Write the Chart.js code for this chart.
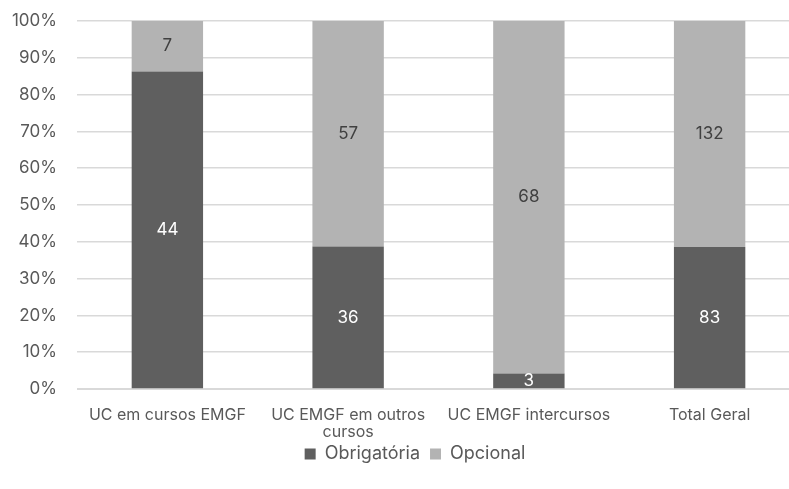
<!DOCTYPE html>
<html>
<head>
<meta charset="utf-8">
<script src="https://cdn.jsdelivr.net/npm/chart.js@4"></script>
<style>
  html, body { margin: 0; padding: 0; background: #fff; overflow: hidden; }
  #wrap { width: 800px; height: 489px; }
</style>
</head>
<body>
<div id="wrap"><canvas id="chart"></canvas></div>
<script>
// Categories and counts
const categories = [
  "UC em cursos EMGF",
  ["UC EMGF em outros", "cursos"],
  "UC EMGF intercursos",
  "Total Geral"
];
const obrigatoria = [44, 36, 3, 83];
const opcional = [7, 57, 68, 132];
const yTicks = [0, 10, 20, 30, 40, 50, 60, 70, 80, 90, 100];

// 100% stacked: share of each category
const totals = obrigatoria.map((v, i) => v + opcional[i]);
const pctObrig = obrigatoria.map((v, i) => v / totals[i] * 100);
const pctOpc = opcional.map((v, i) => v / totals[i] * 100);

const FONT = "Inter, 'Open Sans', sans-serif";

// Draw the raw counts in the middle of each segment
const countLabels = {
  id: 'countLabels',
  afterDatasetsDraw(chart) {
    const ctx = chart.ctx;
    ctx.save();
    ctx.font = "17px " + FONT;
    ctx.textAlign = 'center';
    ctx.textBaseline = 'middle';
    chart.data.datasets.forEach((ds, di) => {
      const meta = chart.getDatasetMeta(di);
      meta.data.forEach((bar, i) => {
        const y = (bar.y + bar.base) / 2;
        ctx.fillStyle = ds.labelColor;
        ctx.fillText(ds.counts[i], bar.x, y);
      });
    });
    ctx.restore();
  }
};

// don't clip tick labels to the scale box
const noClip = () => undefined;

new Chart(document.getElementById('chart'), {
  type: 'bar',
  data: {
    labels: categories,
    datasets: [
      {
        label: 'Obrigatória',
        data: pctObrig,
        counts: obrigatoria,
        labelColor: '#ffffff',
        backgroundColor: '#5f5f5f',
        categoryPercentage: 1,
        barPercentage: 0.395
      },
      {
        label: 'Opcional',
        data: pctOpc,
        counts: opcional,
        labelColor: '#404040',
        backgroundColor: '#b3b3b3',
        categoryPercentage: 1,
        barPercentage: 0.395
      }
    ]
  },
  options: {
    responsive: true,
    maintainAspectRatio: false,
    animation: false,
    layout: { padding: { top: 0, left: 30, right: 0, bottom: 16 } },
    plugins: {
      tooltip: { enabled: false },
      legend: {
        position: 'bottom',
        labels: {
          boxWidth: 11,
          boxHeight: 11,
          padding: 10,
          color: '#595959',
          font: { family: FONT, size: 18 }
        }
      }
    },
    scales: {
      x: {
        stacked: true,
        grid: { display: false },
        border: { color: '#d9d9d9' },
        afterFit(scale) {
          scale.height = 46;
          scale._computeLabelArea = noClip;
        },
        ticks: {
          color: '#595959',
          font: { family: FONT, size: 16, lineHeight: 1.1 },
          maxRotation: 0,
          autoSkip: false,
          padding: 9
        }
      },
      y: {
        stacked: true,
        min: 0,
        max: 100,
        afterBuildTicks(scale) {
          scale.ticks = yTicks.map(v => ({ value: v }));
        },
        afterFit(scale) {
          scale.width = 47;
          scale.paddingTop = 21;
          scale._computeLabelArea = noClip;
        },
        grid: { color: '#d9d9d9', lineWidth: 1.5, drawTicks: false },
        border: { display: false },
        ticks: {
          color: '#595959',
          font: { family: FONT, size: 17 },
          padding: 20,
          callback: v => v + '%'
        }
      }
    }
  },
  plugins: [countLabels]
});
</script>
</body>
</html>
